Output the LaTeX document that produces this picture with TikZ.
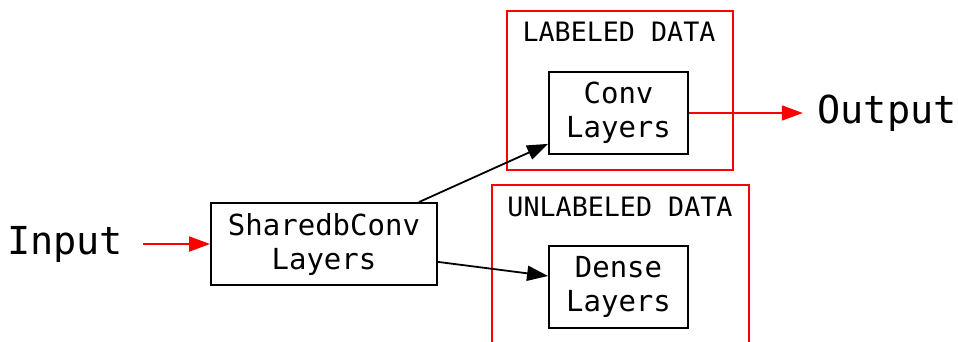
\documentclass[tikz,border=0pt]{standalone}
\usepackage{fontspec}
\setmainfont{DejaVu Sans Mono}
\usetikzlibrary{arrows.meta}
\begin{document}
\begin{tikzpicture}[x=1pt,y=-1pt,
  box/.style={draw=black,line width=1.8pt,inner sep=0pt,align=center,font=\fontsize{29}{34}\selectfont},
  cluster/.style={draw=red,line width=1.8pt,inner sep=0pt},
  clabel/.style={font=\fontsize{26.7}{30}\selectfont,inner sep=0pt},
  big/.style={font=\fontsize{38.5}{44}\selectfont,inner sep=0pt},
  redarrow/.style={draw=red,line width=1.8pt,-{Triangle[length=21pt,width=15pt]},red},
  blackarrow/.style={draw=black,line width=1.8pt,-{Triangle[length=21pt,width=15pt]}}]
\useasboundingbox (0,0) rectangle (958,342);
\node[cluster,minimum width=226pt,minimum height=159pt] (lc) at (620,90.5) {};
\node[cluster,minimum width=257pt,minimum height=200pt] (uc) at (620.5,285) {};
\node[clabel] (lcl) at (619,32) {LABELED DATA};
\node[clabel] (ucl) at (620,207) {UNLABELED DATA};
\node[box,minimum width=226pt,minimum height=82pt] (sh) at (324,244) {SharedbConv\\Layers};
\node[box,minimum width=139pt,minimum height=82pt] (conv) at (618.5,113) {Conv\\Layers};
\node[box,minimum width=139pt,minimum height=82pt] (dense) at (618.5,287) {Dense\\Layers};
\node[big,minimum width=156pt] (in) at (65,244) {Input};
\node[big,minimum width=168pt] (out) at (887,113) {Output};
\draw[redarrow] (in.east) -- (sh.west);
\draw[redarrow] (conv.east) -- (out.west);
\draw[blackarrow] ([xshift=-19pt]sh.north east) -- ([yshift=11pt]conv.south west);
\draw[blackarrow] ([yshift=24pt]sh.south east) -- ([yshift=11pt]dense.west);
\end{tikzpicture}
\end{document}
